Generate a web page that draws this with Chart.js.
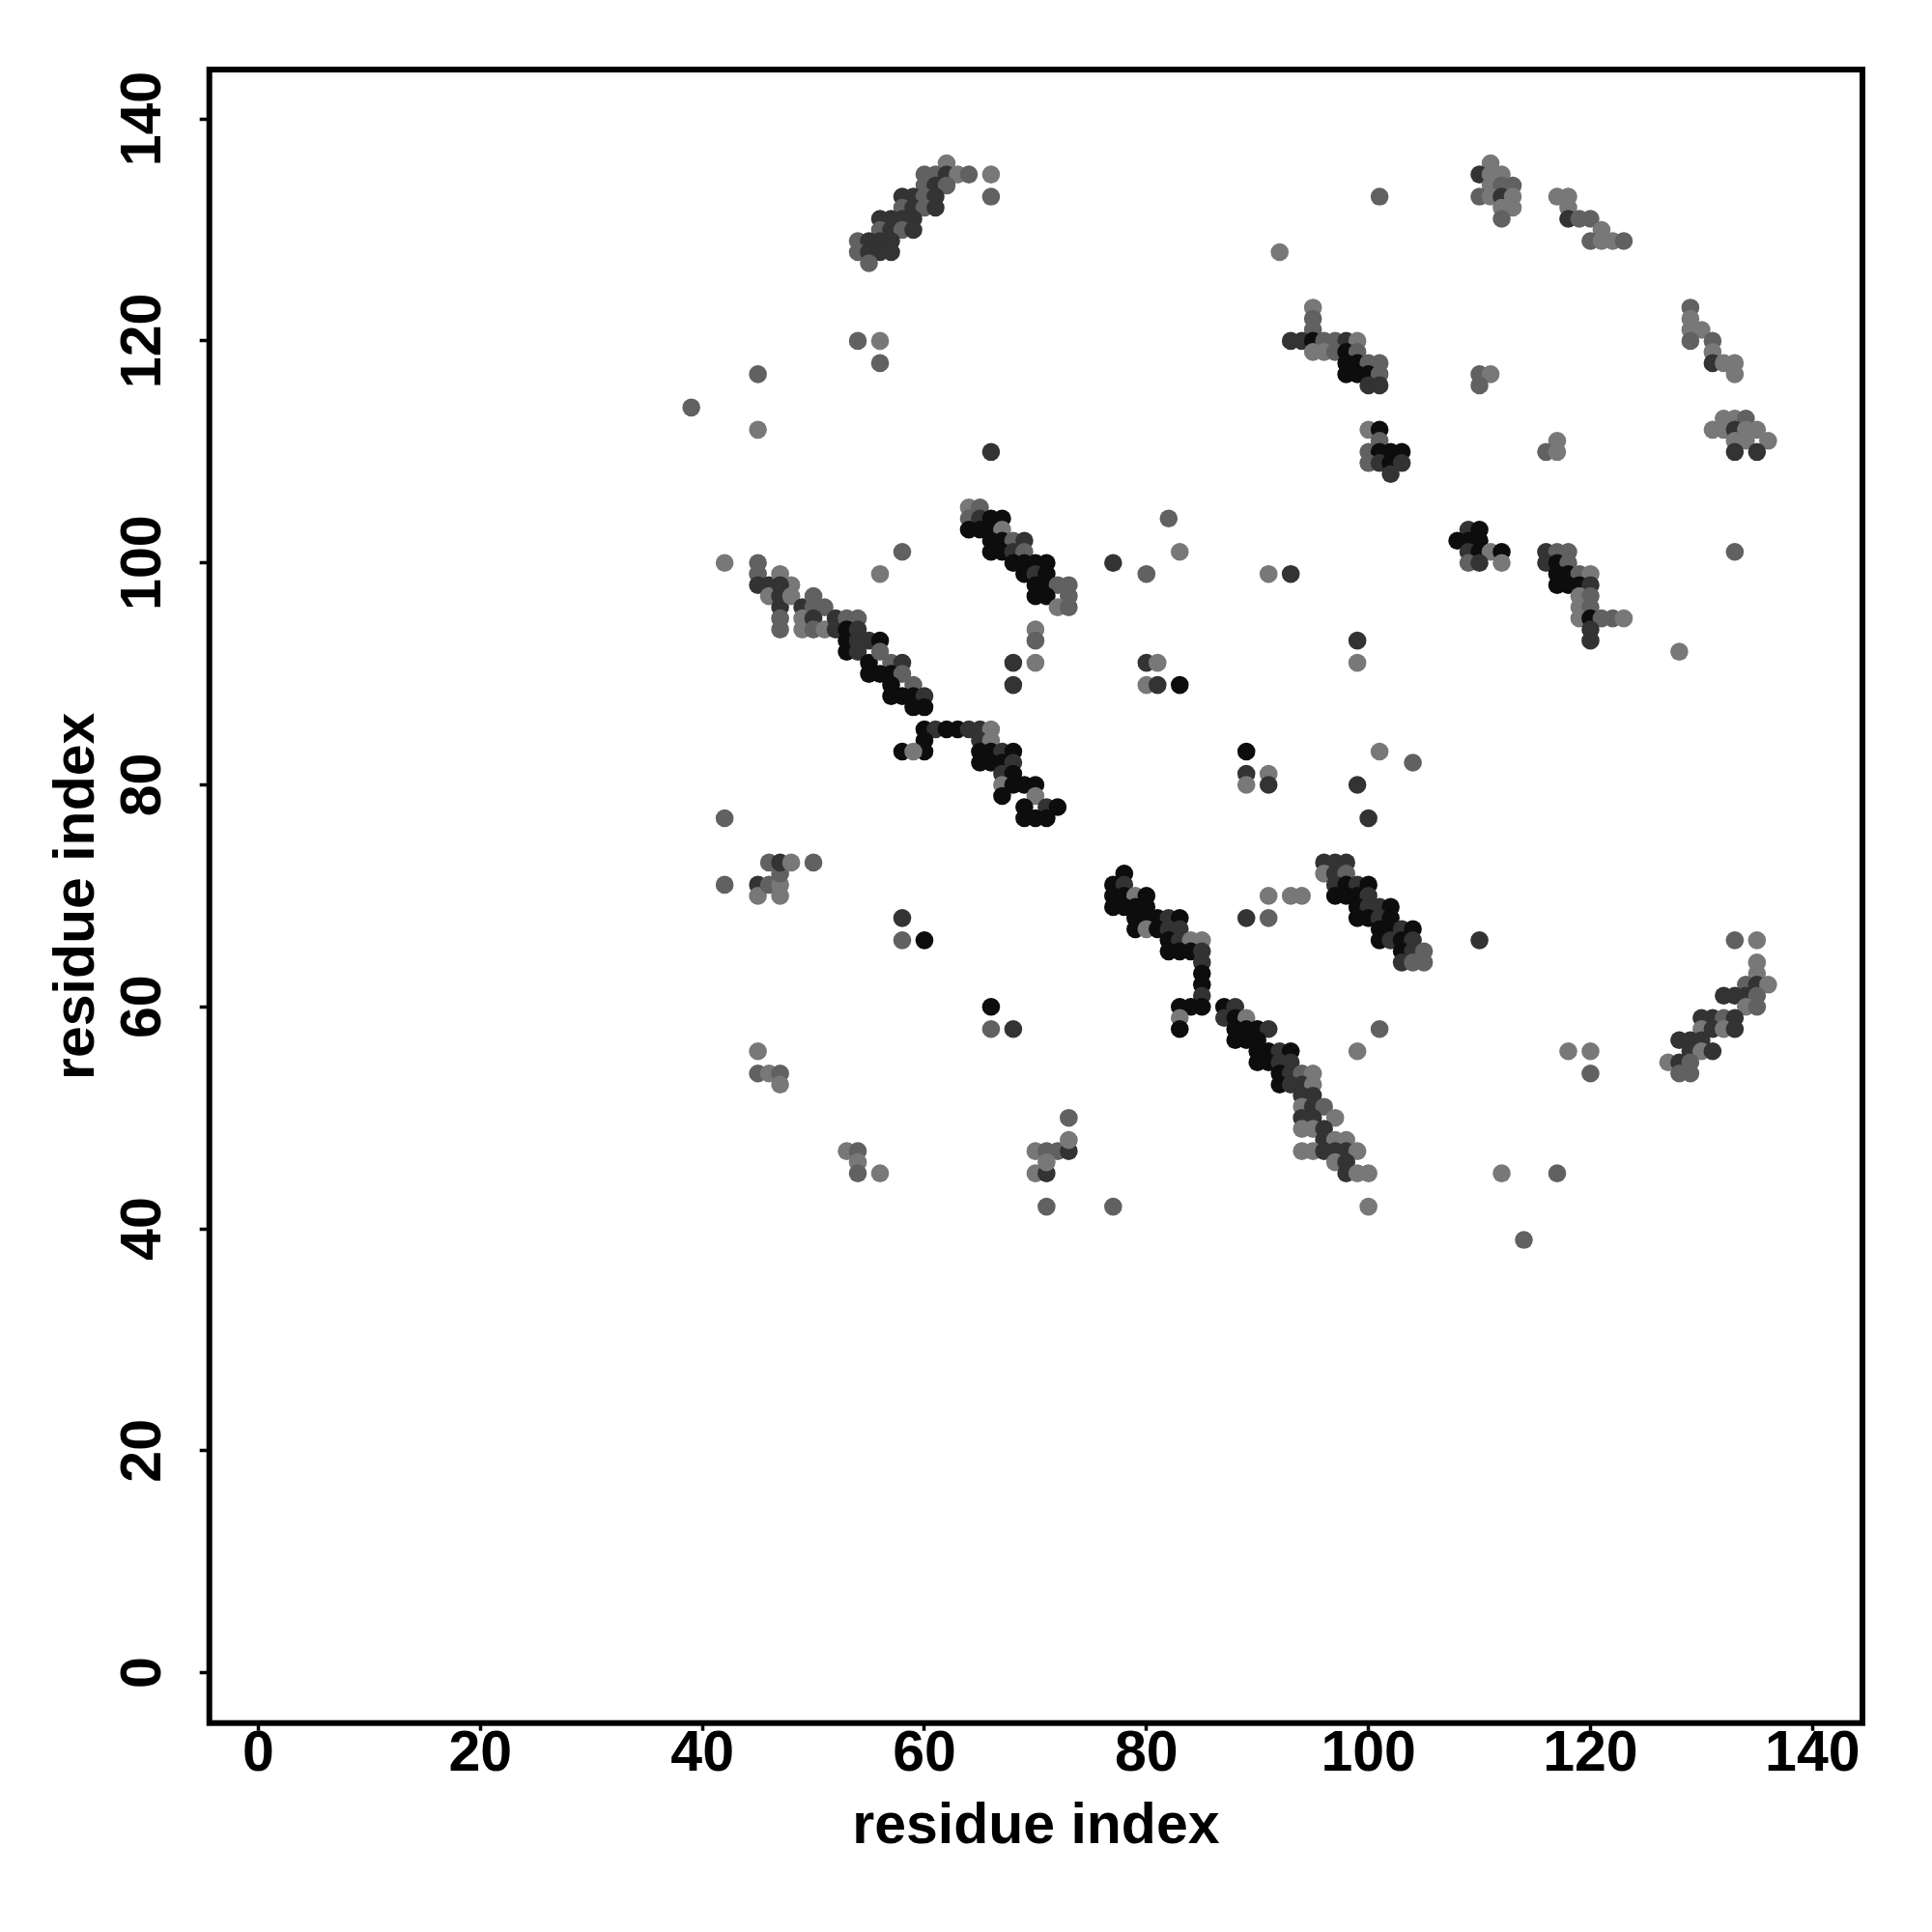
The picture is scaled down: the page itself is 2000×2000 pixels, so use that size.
<!DOCTYPE html>
<html>
<head>
<meta charset="utf-8">
<script src="https://cdn.jsdelivr.net/npm/chart.js@4.4.1/dist/chart.umd.min.js"></script>
<style>
  html, body { margin: 0; padding: 0; background: #fff; }
</style>
</head>
<body>
<canvas id="contactMap" width="2000" height="2000"></canvas>
<script>
// residue pairs (i, j) and contact probability; one line = one row of a cluster
const resI = [
  62,
  60, 61, 62, 63, 64, 66,
  60, 61, 62,
  58, 59, 60, 61, 66,
  58, 59, 60, 61,
  56, 57, 58, 59,
  56, 57, 58, 59,
  54, 55, 56, 57,
  54, 55, 56, 57,
  55,
  39, 45, 45, 54, 56, 56, 66,
  101, 92,
  95, 95, 95,
  93, 94, 95, 96, 97, 98, 99,
  95, 96, 97, 98, 99,
  98, 99, 100, 101,
  98, 99, 100, 101,
  100, 101,
  100, 101, 101,
  100, 101, 102, 103,
  100, 101, 102, 103,
  102,
  111,
  110, 111, 112,
  111, 112, 113,
  110, 111, 112, 113,
  112, 113,
  112,
  117, 118,
  118,
  118, 119, 120,
  121,
  120, 121, 122, 123,
  129, 129, 129, 130, 129, 131, 131, 131, 132, 133, 133,
  110, 111, 110, 117, 116, 117,
  132, 133, 134, 131, 132, 133, 134, 135, 133, 134, 136, 133, 135,
  42, 58, 56,
  45, 45, 45, 46, 46,
  47, 48, 47, 47, 47, 47, 47,
  48, 49, 50, 50, 51,
  49, 49, 50, 50, 51, 52, 52,
  53, 54, 53, 53, 53,
  54, 54, 55, 56, 54, 55, 56,
  55, 57, 58, 56, 57, 58,
  57, 57, 59, 58, 59, 60, 59, 60,
  70, 70, 70, 68, 68,
  64, 65,
  64, 65, 66, 67,
  64, 65, 66, 67,
  66, 67, 68, 69,
  66, 67, 68, 69,
  68, 69, 70, 71,
  69, 70, 71,
  70, 71, 72, 73,
  70, 71, 73,
  72, 73,
  60, 61, 62, 63, 64, 65, 66,
  60, 60, 58, 59,
  65, 66, 65, 66, 67, 68,
  65, 66, 67, 68,
  67, 68, 67, 68, 69, 70,
  67, 70, 69, 71, 72,
  69, 70, 71,
  42, 82, 83, 77, 80, 91, 93,
  99, 99, 80, 81, 80, 81, 83,
  89, 89, 91, 89, 91,
  101, 104, 99, 100, 133, 128,
  109, 110,
  108, 109, 110,
  109, 110, 111, 112,
  109, 110, 112,
  116, 117, 118,
  116, 117, 118,
  117, 118, 119, 120,
  117, 118, 119, 120,
  119, 120,
  119, 120,
  119, 120, 121, 122, 123,
  120, 120,
  42, 45, 45, 46, 47, 47, 47, 46, 47, 48, 50,
  58, 58, 60, 66, 66, 68,
  45, 45, 46, 47, 47,
  53, 54, 54, 54, 56,
  70, 71, 72, 73, 73, 73, 70, 71, 71, 71, 77,
  78,
  77, 78,
  77, 78, 79, 80,
  77, 78, 79, 80,
  79, 80, 81, 82, 83,
  79, 80, 81, 82, 83,
  82, 83, 84, 85,
  82, 83, 84, 85,
  85, 85, 85, 85,
  83, 84, 85,
  83, 83,
  91, 93, 94, 89, 91,
  96, 97, 98,
  96, 97, 98,
  97, 98, 99, 100,
  97, 98, 99, 100,
  99, 100, 101, 102,
  99, 100, 101, 102,
  101, 102, 103, 104,
  101, 102, 103, 104,
  103, 104, 105,
  103, 104, 105,
  87, 88, 87, 88, 89,
  88, 89, 90, 91,
  88, 89, 90,
  90, 91, 92, 93,
  90, 91, 92, 93,
  92, 93, 94, 95,
  92, 93, 94, 95,
  94, 95,
  94, 95, 96,
  94, 95, 97,
  94, 95, 96,
  96, 97, 98,
  94, 95, 96, 97, 98, 99,
  97, 98,
  98, 99, 100,
  100,
  133, 135,
  135, 135, 134, 135, 136,
  132, 133, 134, 135,
  134, 135,
  130, 131, 132, 133,
  130, 131, 132, 133,
  128, 129, 130,
  129, 130, 131,
  127, 128, 129,
  128, 129,
  118, 120, 120, 112, 117, 114, 110, 101, 99
];

const resJ = [
  136,
  135, 135, 135, 135, 135, 135,
  134, 134, 134,
  133, 133, 133, 133, 133,
  132, 132, 132, 132,
  131, 131, 131, 131,
  130, 130, 130, 130,
  129, 129, 129, 129,
  128, 128, 128, 128,
  127,
  114, 117, 112, 120, 120, 118, 110,
  133, 128,
  123, 122, 121,
  120, 120, 120, 120, 120, 120, 120,
  119, 119, 119, 119, 119,
  118, 118, 118, 118,
  117, 117, 117, 117,
  116, 116,
  112, 112, 111,
  110, 110, 110, 110,
  109, 109, 109, 109,
  108,
  136,
  135, 135, 135,
  134, 134, 134,
  133, 133, 133, 133,
  132, 132,
  131,
  133, 133,
  132,
  131, 131, 131,
  130,
  129, 129, 129, 129,
  123, 122, 121, 121, 120, 120, 119, 118, 118, 118, 117,
  117, 117, 116, 111, 110, 110,
  113, 113, 113, 112, 112, 112, 112, 112, 111, 111, 111, 110, 110,
  100, 101, 99,
  100, 99, 98, 98, 97,
  99, 98, 98, 97, 96, 95, 94,
  97, 96, 97, 96, 96,
  95, 94, 95, 94, 94, 95, 94,
  95, 95, 94, 93, 92,
  94, 93, 93, 93, 92, 91, 92,
  90, 91, 91, 90, 90, 90,
  88, 89, 89, 88, 88, 88, 87, 87,
  94, 93, 91, 91, 89,
  105, 105,
  104, 104, 104, 104,
  103, 103, 103, 103,
  102, 102, 102, 102,
  101, 101, 101, 101,
  100, 100, 100, 100,
  99, 99, 99,
  98, 98, 98, 98,
  97, 97, 97,
  96, 96,
  85, 85, 85, 85, 85, 85, 85,
  84, 83, 83, 83,
  84, 84, 83, 83, 83, 83,
  82, 82, 82, 82,
  81, 81, 80, 80, 80, 80,
  79, 79, 78, 78, 78,
  77, 77, 77,
  77, 104, 101, 100, 99, 99, 99,
  93, 91, 91, 91, 89, 89, 89,
  83, 81, 81, 80, 80,
  83, 82, 80, 77, 101, 92,
  103, 103,
  102, 102, 102,
  101, 101, 101, 101,
  100, 100, 100,
  101, 101, 101,
  100, 100, 100,
  99, 99, 99, 99,
  98, 98, 98, 98,
  97, 97,
  96, 96,
  95, 95, 95, 95, 95,
  94, 93,
  71, 71, 70, 71, 71, 70, 72, 73, 73, 73, 73,
  68, 66, 66, 60, 58, 58,
  56, 54, 54, 54, 53,
  47, 47, 46, 45, 45,
  47, 47, 47, 47, 48, 50, 45, 45, 46, 42, 42,
  72,
  71, 71,
  70, 70, 70, 70,
  69, 69, 69, 69,
  68, 68, 68, 68, 68,
  67, 67, 67, 67, 67,
  66, 66, 66, 66,
  65, 65, 65, 65,
  64, 63, 62, 61,
  60, 60, 60,
  59, 58,
  70, 70, 70, 68, 68,
  73, 73, 73,
  72, 72, 72,
  71, 71, 71, 71,
  70, 70, 70, 70,
  69, 69, 69, 69,
  68, 68, 68, 68,
  67, 67, 67, 67,
  66, 66, 66, 66,
  65, 65, 65,
  64, 64, 64,
  60, 60, 59, 59, 59,
  58, 58, 58, 58,
  57, 57, 57,
  56, 56, 56, 56,
  55, 55, 55, 55,
  54, 54, 54, 54,
  53, 53, 53, 53,
  52, 52,
  51, 51, 51,
  50, 50, 50,
  49, 49, 49,
  48, 48, 48,
  47, 47, 47, 47, 47, 47,
  46, 46,
  45, 45, 45,
  42,
  66, 66,
  64, 63, 62, 62, 62,
  61, 61, 61, 61,
  60, 60,
  59, 59, 59, 59,
  58, 58, 58, 58,
  57, 57, 57,
  56, 56, 56,
  55, 55, 55,
  54, 54,
  56, 56, 54, 45, 45, 39, 66, 58, 56
];

const prob = [
  .53,
  .62, .62, .8, .53, .62, .53,
  .62, .8, .62,
  .8, .8, .62, .8, .62,
  .62, .8, .62, .8,
  .8, .8, .8, .8,
  .62, .8, .62, .8,
  .62, .8, .8, .8,
  .62, .8, .8, .8,
  .62,
  .62, .62, .53, .62, .53, .62, .8,
  .62, .53,
  .53, .62, .62,
  .8, .8, .95, .62, .62, .8, .53,
  .53, .53, .62, .95, .62,
  .95, .95, .62, .62,
  .95, .95, .95, .62,
  .8, .8,
  .53, .95, .62,
  .62, .95, .95, .95,
  .62, .8, .95, .8,
  .8,
  .53,
  .8, .53, .53,
  .53, .62, .62,
  .62, .53, .8, .53,
  .53, .53,
  .62,
  .53, .53,
  .53,
  .8, .62, .62,
  .53,
  .62, .53, .53, .62,
  .62, .53, .53, .53, .62, .62, .53, .8, .53, .53, .53,
  .62, .53, .62, .53, .62, .53,
  .53, .53, .62, .53, .53, .8, .53, .53, .53, .53, .53, .8, .8,
  .53, .62, .53,
  .62, .62, .8, .8, .53,
  .53, .53, .8, .8, .8, .62, .62,
  .53, .8, .62, .62, .62,
  .53, .53, .8, .62, .53, .8, .8,
  .62, .62, .95, .95, .95,
  .8, .8, .8, .95, .8, .95, .62,
  .95, .62, .8, .95, .95, .62,
  .95, .95, .62, .95, .95, .8, .95, .95,
  .53, .62, .53, .8, .8,
  .53, .62,
  .62, .8, .95, .95,
  .95, .95, .95, .53,
  .95, .95, .62, .8,
  .95, .95, .8, .62,
  .95, .95, .95, .95,
  .95, .8, .95,
  .95, .95, .62, .62,
  .95, .95, .62,
  .53, .62,
  .95, .8, .95, .95, .8, .8, .53,
  .95, .95, .95, .53,
  .8, .53, .95, .95, .8, .95,
  .95, .95, .95, .8,
  .8, .95, .53, .95, .95, .95,
  .95, .53, .95, .8, .95,
  .95, .95, .95,
  .62, .62, .53, .8, .62, .53, .8,
  .8, .53, .8, .53, .53, .8, .95,
  .95, .8, .53, .53, .8,
  .53, .62, .8, .8, .62, .53,
  .8, .95,
  .95, .95, .95,
  .8, .95, .53, .95,
  .62, .8, .53,
  .8, .62, .62,
  .8, .95, .62,
  .95, .95, .62, .53,
  .95, .95, .95, .8,
  .53, .62,
  .53, .62,
  .53, .95, .62, .62, .53,
  .8, .8,
  .62, .8, .53, .62, .53, .53, .62, .62, .8, .53, .62,
  .8, .62, .95, .95, .62, .8,
  .53, .62, .53, .62, .53,
  .53, .62, .53, .62, .53,
  .53, .62, .62, .8, .53, .62, .53, .8, .53, .62, .62,
  .95,
  .95, .8,
  .95, .95, .53, .95,
  .95, .95, .95, .95,
  .95, .95, .95, .8, .95,
  .95, .53, .95, .8, .8,
  .95, .8, .53, .53,
  .95, .95, .95, .8,
  .8, .95, .95, .8,
  .95, .95, .95,
  .53, .95,
  .53, .53, .53, .8, .62,
  .8, .8, .8,
  .53, .8, .62,
  .8, .95, .8, .95,
  .95, .95, .95, .8,
  .95, .8, .8, .95,
  .95, .95, .8, .95,
  .95, .95, .8, .95,
  .95, .8, .95, .8,
  .95, .8, .62,
  .8, .62, .62,
  .95, .8, .8, .95, .53,
  .95, .95, .95, .8,
  .95, .95, .95,
  .95, .95, .8, .95,
  .95, .95, .8, .8,
  .95, .8, .62, .53,
  .95, .8, .8, .53,
  .8, .8,
  .53, .8, .62,
  .8, .8, .53,
  .53, .53, .8,
  .8, .53, .53,
  .53, .53, .8, .8, .8, .53,
  .53, .8,
  .8, .53, .53,
  .53,
  .62, .53,
  .53, .53, .62, .8, .53,
  .8, .8, .8, .62,
  .53, .62,
  .8, .8, .62, .8,
  .53, .8, .53, .8,
  .8, .8, .8,
  .8, .53, .8,
  .53, .8, .62,
  .62, .62,
  .53, .53, .62, .53, .62, .62, .8, .62, .53
];

const tickVals = [0, 20, 40, 60, 80, 100, 120, 140];
const axisLabel = "residue index";

const fontFamily = '"Liberation Sans", Arial, Helvetica, sans-serif';
const labelFont = { family: fontFamily, size: 59, weight: 'bold', lineHeight: 1 };

const points = resI.map((x, k) => ({ x: x, y: resJ[k] }));
// darker = higher probability
const colors = prob.map(p => {
  const g = Math.round(255 * (1 - p));
  return `rgb(${g},${g},${g})`;
});

// black box round the plot, plus vertical y tick labels (like R's las=0)
const frameAndYLabels = {
  id: 'frameAndYLabels',
  afterDraw(chart) {
    const { ctx, chartArea } = chart;
    ctx.save();
    ctx.strokeStyle = '#000';
    ctx.lineWidth = 6;
    ctx.strokeRect(chartArea.left, chartArea.top,
      chartArea.right - chartArea.left, chartArea.bottom - chartArea.top);

    const yScale = chart.scales.y;
    ctx.fillStyle = '#000';
    ctx.font = `bold ${labelFont.size}px ${fontFamily}`;
    ctx.textAlign = 'center';
    ctx.textBaseline = 'middle';
    tickVals.forEach(v => {
      const py = yScale.getPixelForValue(v);
      ctx.save();
      ctx.translate(150, py);
      ctx.rotate(-Math.PI / 2);
      ctx.fillText(String(v), 0, 0);
      ctx.restore();
    });
    ctx.restore();
  }
};

const setTicks = axis => { axis.ticks = tickVals.map(v => ({ value: v })); };

new Chart(document.getElementById('contactMap'), {
  type: 'scatter',
  data: {
    datasets: [{
      data: points,
      pointRadius: 9.3,
      pointHoverRadius: 9.3,
      pointBackgroundColor: colors,
      pointBorderWidth: 0,
      pointBorderColor: 'rgba(0,0,0,0)'
    }]
  },
  options: {
    responsive: false,
    animation: false,
    devicePixelRatio: 1,
    layout: { padding: { left: 51.5, right: 72, top: 72, bottom: 78.5 } },
    plugins: {
      legend: { display: false },
      tooltip: { enabled: false }
    },
    scales: {
      x: {
        type: 'linear',
        min: -4.42,
        max: 144.5,
        afterBuildTicks: setTicks,
        afterFit: s => { s.height = 137.8; },
        border: { display: false },
        grid: { drawOnChartArea: false, drawTicks: true, tickLength: 8, tickWidth: 3.5, tickColor: '#000' },
        ticks: { color: '#000', font: labelFont, padding: -4, maxRotation: 0, autoSkip: false },
        title: { display: true, text: axisLabel, color: '#000', font: labelFont, padding: 0 }
      },
      y: {
        type: 'linear',
        min: -4.53,
        max: 144.45,
        afterBuildTicks: setTicks,
        afterFit: s => { s.width = 165.2; },
        border: { display: false },
        grid: { drawOnChartArea: false, drawTicks: true, tickLength: 10, tickWidth: 3.5, tickColor: '#000' },
        ticks: { display: false },
        title: { display: true, text: axisLabel, color: '#000', font: labelFont, padding: 0 }
      }
    }
  },
  plugins: [frameAndYLabels]
});
</script>
</body>
</html>
